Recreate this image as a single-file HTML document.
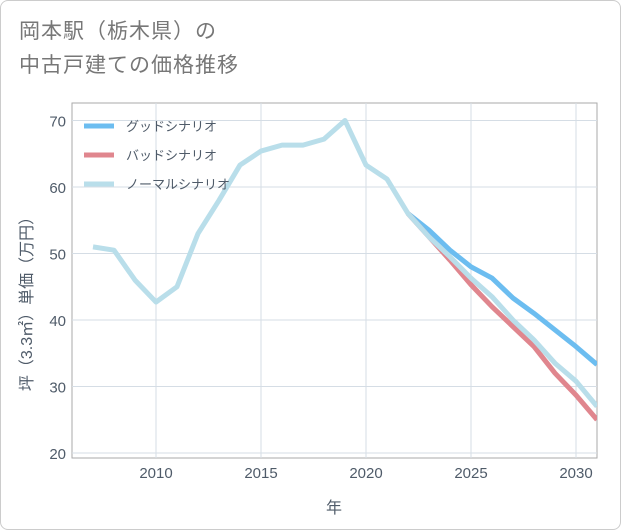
<!DOCTYPE html>
<html><head><meta charset="utf-8"><style>
body{margin:0;background:#fff;font-family:"Liberation Sans","Noto Sans CJK JP",sans-serif}
#card{position:absolute;left:0;top:0;width:619px;height:528px;border:1px solid #ccc;border-radius:8px;background:#fff}
#title{position:absolute;left:18px;top:14px;font-size:21px;line-height:34px;color:#777;letter-spacing:1px}
</style></head><body>
<div id="card">
<div id="title">岡本駅（栃木県）の<br>中古戸建ての価格推移</div>
<svg id="chart" width="621" height="530" style="position:absolute;left:-1px;top:-1px"></svg>
</div>
<script>
const years=[2007,2008,2009,2010,2011,2012,2013,2014,2015,2016,2017,2018,2019,2020,2021,2022,2023,2024,2025,2026,2027,2028,2029,2030,2031];
const normalVals=[51,50.5,46,42.7,45,53,58,63.3,65.4,66.3,66.3,67.2,70,63.3,61.2,56,52.5,49.5,46.3,43.5,40,37,33.5,30.8,27];
const futureYears=[2022,2023,2024,2025,2026,2027,2028,2029,2030,2031];
const goodVals=[56,53.5,50.5,48,46.3,43.3,41,38.5,36,33.3];
const badVals=[56,52.5,49,45.3,42,39,36,32,28.7,25];
const xTicks=[2010,2015,2020,2025,2030];
const yTicks=[20,30,40,50,60,70];
const L=72,R=597,T=103,B=458;
const x=v=>156+(v-2010)*21;
const y=v=>453-(v-20)*6.65;
const svg=document.getElementById('chart');
const NS='http://www.w3.org/2000/svg';
function mk(t,a,p){const e=document.createElementNS(NS,t);for(const k in a)e.setAttribute(k,a[k]);(p||svg).appendChild(e);return e;}
const bg=mk('rect',{x:L,y:T,width:R-L,height:B-T,fill:'#fff',stroke:'#aaa','stroke-width':1});


xTicks.forEach(t=>{const g=mk('line',{x1:x(t),x2:x(t),y1:T,y2:B,stroke:'#d5dde5'});


const tx=mk('text',{x:x(t),y:B+20,'text-anchor':'middle','font-size':15,fill:'#4f5b69'});tx.textContent=t;

});
yTicks.forEach(t=>{const g=mk('line',{x1:L,x2:R,y1:y(t),y2:y(t),stroke:'#d5dde5'});


const tx=mk('text',{x:L-6,y:y(t)+6,'text-anchor':'end','font-size':15,fill:'#4f5b69'});tx.textContent=t;

});
const cp=mk('clipPath',{id:'cp'});mk('rect',{x:L,y:T,width:R-L,height:B-T},cp);
function line(xs,vs,c,name){const p=mk('polyline',{points:xs.map((v,i)=>x(v)+','+y(vs[i])).join(' '),fill:'none',stroke:c,'stroke-width':5,'stroke-linejoin':'round','clip-path':'url(#cp)'});

}
line(futureYears,goodVals,'#6cbdf0','good-scenario-line');
line(futureYears,badVals,'#e0868e','bad-scenario-line');
line(years,normalVals,'#b9deea','normal-scenario-line');
const lg=[['グッドシナリオ','#6cbdf0'],['バッドシナリオ','#e0868e'],['ノーマルシナリオ','#b9deea']];
lg.forEach((d,i)=>{const yy=126+i*29;const s=mk('line',{x1:84,x2:114,y1:yy,y2:yy,stroke:d[1],'stroke-width':5});


const t=mk('text',{x:126,y:yy+5,'font-size':13,fill:'#4f5b69'});t.textContent=d[0];

});
const xt=mk('text',{x:334,y:513,'text-anchor':'middle','font-size':16,fill:'#4f5b69'});xt.textContent='年';


const yt=mk('text',{x:0,y:0,'text-anchor':'middle','font-size':16,fill:'#4f5b69',transform:'translate(32,300) rotate(-90)'});yt.textContent='坪（3.3㎡）単価（万円）';


</script>
</body></html>
